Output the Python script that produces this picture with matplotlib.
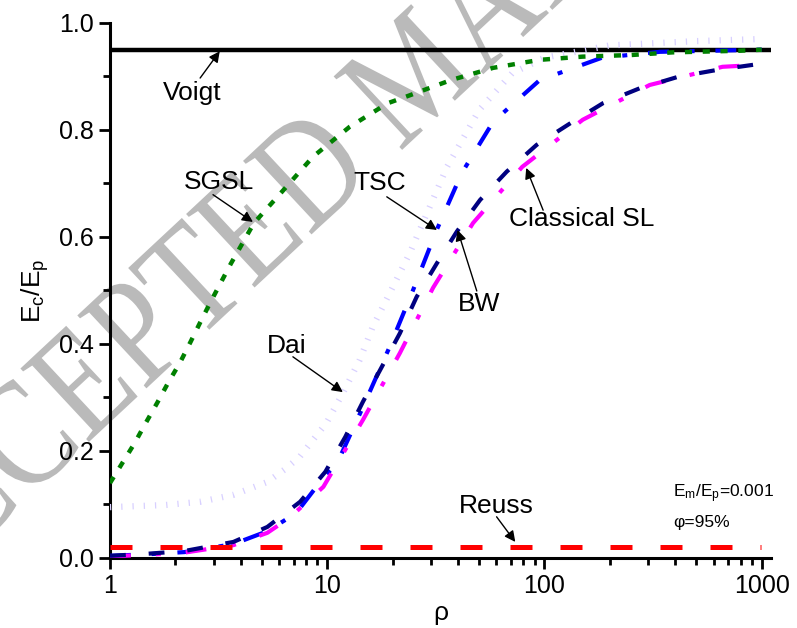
import matplotlib
matplotlib.use('Agg')
import matplotlib.pyplot as plt
from matplotlib.textpath import TextPath
from matplotlib.patches import PathPatch
from matplotlib.font_manager import FontProperties
from matplotlib.transforms import Affine2D

plt.rcParams['font.family'] = ['Liberation Sans', 'DejaVu Sans']
plt.rcParams['mathtext.default'] = 'regular'

# Voigt / Reuss bounds
voigt = 0.95
reuss = 0.02

# SGSL
rho_sgsl = [1, 1.15, 1.3, 1.45, 1.65, 1.85, 2.1, 2.35, 2.6, 2.9, 3.6, 4.6, 6.3, 8.6,
            12.7, 19, 23, 37, 58, 95, 150, 250, 390, 790, 1000]
e_sgsl = [0.14, 0.18, 0.215, 0.25, 0.29, 0.327, 0.365, 0.404, 0.44, 0.478, 0.55, 0.626,
          0.688, 0.75, 0.806, 0.85, 0.862, 0.893, 0.916, 0.931, 0.937, 0.94, 0.945, 0.948, 0.95]

# Dai
rho_dai = [1, 1.8, 2.6, 3.7, 5.3, 6.5, 7.5, 9.9, 11.8, 14.1, 16.2, 19.4, 24, 35.6, 50,
           71, 100, 200, 500, 1000]
e_dai = [0.095, 0.099, 0.105, 0.118, 0.142, 0.168, 0.19, 0.252, 0.308, 0.37, 0.432,
         0.495, 0.57, 0.731, 0.837, 0.906, 0.935, 0.958, 0.966, 0.97]

# TSC
rho_tsc = [1, 1.5, 2.2, 3.7, 5.3, 7.2, 9.6, 11.1, 14.6, 19.4, 24.8, 31.9, 41.7, 58, 95,
           184, 340, 1000]
e_tsc = [0.004, 0.007, 0.011, 0.026, 0.05, 0.084, 0.15, 0.177, 0.282, 0.395, 0.5, 0.613,
         0.72, 0.815, 0.893, 0.935, 0.946, 0.95]

# BW
rho_bw = [1, 1.5, 2.2, 3.7, 5.3, 7.5, 9.8, 12.1, 14.6, 17.5, 21.6, 25.8, 32, 39.5, 50.5,
          67, 92, 131, 186, 275, 410, 620, 1000]
e_bw = [0.004, 0.008, 0.013, 0.03, 0.058, 0.105, 0.161, 0.226, 0.292, 0.351, 0.42, 0.488,
        0.551, 0.61, 0.669, 0.722, 0.772, 0.812, 0.85, 0.878, 0.899, 0.912, 0.924]

# Classical SL
rho_csl = [1, 1.5, 2.2, 3.7, 5.3, 6.7, 9.6, 14.6, 21.6, 30.7, 46.9, 79, 150, 305, 660, 1000]
e_csl = [0.003, 0.006, 0.01, 0.024, 0.047, 0.075, 0.133, 0.258, 0.383, 0.505, 0.626,
         0.731, 0.819, 0.884, 0.918, 0.922]

fig = plt.figure(figsize=(7.97, 6.28), dpi=100)
ax = fig.add_axes([0.138, 0.1115, 0.829, 0.852])

# watermark behind everything
fp = FontProperties(family='Liberation Serif')
wm_size = 118
wm = TextPath((0, 0), 'ACCEPTED MANUSCRIPT', size=wm_size, prop=fp)
m_x = TextPath((0, 0), 'ACCEPTED M', size=wm_size, prop=fp).get_extents().x1 - 0.43 * wm_size
wm_tr = (Affine2D().translate(-m_x, -0.33 * wm_size).scale(1.08, 1.3)
         .rotate_deg(43).translate(405, 628 - 78))
fig.add_artist(PathPatch(wm, transform=wm_tr, facecolor='#bababa', lw=0, zorder=-1))
ax.patch.set_alpha(0)

ax.axhline(voigt, color='k', lw=3.2, zorder=2)
ax.axhline(reuss, xmin=0, xmax=0.985, color='#ff0000', lw=3.6, dashes=(4.4, 5.6), zorder=6)
ax.plot(rho_dai, e_dai, color='#d8d0ff', lw=4.5, dashes=(0.2, 1.6), zorder=3)
ax.plot(rho_sgsl, e_sgsl, color='#008000', lw=3.2, dashes=(1.6, 2.4), zorder=5)
ax.plot(rho_tsc, e_tsc, color='#0000ff', lw=3.0, dashes=(5, 5, 1.2, 5), zorder=4)
ax.plot(rho_csl, e_csl, color='#ff00ff', lw=3.0, dashes=(5, 6, 1.2, 6), zorder=4)
ax.plot(rho_bw, e_bw, color='#000080', lw=3.0, dashes=(3.8, 5.5), zorder=4)

ax.set_xscale('log')
ax.set_xlim(1, 1100)
ax.set_ylim(0, 1.0)
ax.set_yticks([0, 0.2, 0.4, 0.6, 0.8, 1.0])
ax.set_yticks([0.1, 0.3, 0.5, 0.7, 0.9], minor=True)
ax.set_yticklabels(['0.0', '0.2', '0.4', '0.6', '0.8', '1.0'])
ax.set_xticks([1, 10, 100, 1000])
ax.set_xticklabels(['1', '10', '100', '1000'])

for s in ['top', 'right']:
    ax.spines[s].set_visible(False)
for s in ['left', 'bottom']:
    ax.spines[s].set_linewidth(2.2)
ax.tick_params(which='major', length=8, width=2, labelsize=18, direction='out')
ax.tick_params(which='minor', length=5, width=2, direction='out')

ax.set_ylabel(r'E$_c$/E$_p$', fontsize=19, labelpad=6)
ax.set_xlabel('ρ', fontsize=19, labelpad=2)

arrow = dict(arrowstyle='-|>', color='k', lw=1, mutation_scale=16, shrinkA=0, shrinkB=0)
labels = [
    ('Voigt', (2.38, 0.869), (2.6, 0.897), (3.2, 0.947)),
    ('SGSL', (3.17, 0.703), (2.98, 0.679), (4.55, 0.628)),
    ('TSC', (17.5, 0.701), (18.8, 0.675), (32, 0.613)),
    ('BW', (49.9, 0.475), (48.8, 0.499), (39.8, 0.613)),
    ('Classical SL', (148, 0.634), (98.6, 0.65), (82.4, 0.729)),
    ('Dai', (6.52, 0.396), (6.95, 0.376), (11.8, 0.31)),
    ('Reuss', (60.2, 0.097), (60.2, 0.077), (73.4, 0.03)),
]
for name, txy, tail, head in labels:
    ax.text(txy[0], txy[1], name, fontsize=19, ha='center', va='center', zorder=8)
    ax.annotate('', xy=head, xytext=tail, arrowprops=arrow, zorder=8)

ax.text(391, 0.121, r'E$_m$/E$_p$=0.001', fontsize=12.5, ha='left', va='center')
ax.text(391, 0.067, 'φ=95%', fontsize=12.5, ha='left', va='center')

fig.savefig('out.png', dpi=100)
